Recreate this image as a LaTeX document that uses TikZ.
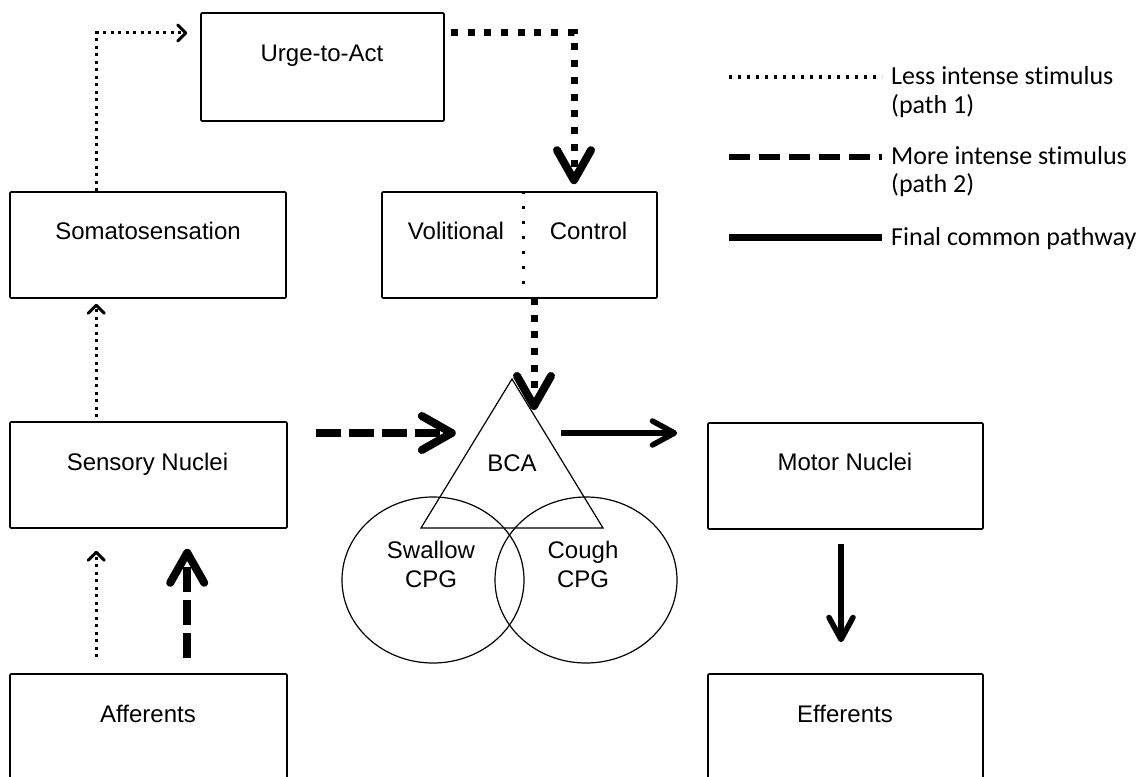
\documentclass[tikz,border=0pt]{standalone}
\usepackage{fontspec}
\setmainfont{Liberation Sans}
\newfontfamily\legendfont[Ligatures=NoCommon]{Carlito}
\usetikzlibrary{arrows.meta,calc,shapes.geometric}
\tikzset{
  box/.style={draw, line width=1.6pt, rounded corners=1pt, inner sep=0pt},
  lbl/.style={anchor=base, inner sep=0pt, font=\fontsize{24}{28}\selectfont},
  leg/.style={anchor=base west, inner sep=0pt, font=\legendfont\fontsize{26}{30}\selectfont},
  outline/.style={draw, line width=1.2pt},
  thindot/.style={line width=3pt, dash pattern=on 3pt off 4.5pt},
  thickdot/.style={line width=7pt, dash pattern=on 7pt off 9.7pt},
  thickdash/.style={line width=8pt, dash pattern=on 25pt off 8pt},
  solidline/.style={line width=5.5pt},
  tipthin/.tip={Straight Barb[length=8pt,width=16pt,line width=3pt,round]},
  tipbig/.tip={Straight Barb[length=30pt,width=34pt,line width=8pt,round]},
  tipsolid/.tip={Straight Barb[length=22pt,width=24pt,line width=5.5pt,round]},
}
\begin{document}
\begin{tikzpicture}[x=1pt,y=-1pt]
\clip (0,0) rectangle (1142,776);
\fill[white] (0,0) rectangle (1142,776);

% boxes
\node[box, minimum width=243pt, minimum height=108pt] (urge) at (322.5,67) {};
\node[box, minimum width=276pt, minimum height=106pt] (soma) at (148,245) {};
\node[box, minimum width=275pt, minimum height=106pt] (vol) at (519.5,245) {};
\node[box, minimum width=277pt, minimum height=106pt] (sens) at (148.5,475) {};
\node[box, minimum width=275pt, minimum height=106pt] (motor) at (845.5,476) {};
\node[box, minimum width=277pt, minimum height=108pt] (aff) at (148.5,728) {};
\node[box, minimum width=275pt, minimum height=108pt] (eff) at (845.5,728) {};

% box texts
\node[lbl] (urgeT) at (322,62) {Urge-to-Act};
\node[lbl] (somaT) at (148,239) {Somatosensation};
\node[lbl] (volT1) at (456,239) {Volitional};
\node[lbl] (volT2) at (588.5,239) {Control};
\node[lbl] (sensT) at (147.5,470) {Sensory Nuclei};
\node[lbl] (motorT) at (845,470) {Motor Nuclei};
\node[lbl] (affT) at (148,722) {Afferents};
\node[lbl] (effT) at (845,722) {Efferents};

% BCA triangle and CPG ellipses
\coordinate (bcaTop) at (512,379);
\coordinate (bcaR) at (603,528);
\coordinate (bcaL) at (421,528);
\node[outline, ellipse, minimum width=182pt, minimum height=166pt, inner sep=0pt] (swallow) at (433,580) {};
\node[outline, ellipse, minimum width=182pt, minimum height=166pt, inner sep=0pt] (cough) at (586,580) {};
\draw[outline, line join=miter] (bcaTop) -- (bcaR) -- (bcaL) -- cycle;
\node[lbl] (bcaT) at (512,471) {BCA};
\node[lbl] (swT1) at (431,558) {Swallow};
\node[lbl] (swT2) at (431,587) {CPG};
\node[lbl] (coT1) at (583,558) {Cough};
\node[lbl] (coT2) at (583,587) {CPG};

% path 1 (less intense, dotted)
\draw[thindot, -{tipthin}] ($(soma.north west)+(87,0)$) |- ($(urge.west)+(-13,-34)$);
\draw[thindot, -{tipthin}] ($(sens.north west)+(87,-4)$) -- ($(soma.south west)+(87,5)$);
\draw[thindot, -{tipthin}] ($(aff.north west)+(87,-16)$) -- ($(sens.south west)+(87,22)$);
\draw[line width=3pt, dash pattern=on 3pt off 12pt] ($(vol.north)+(3.5,0)$) -- ($(vol.south)+(3.5,-8)$);

% path 2 (more intense, dashed)
\draw[thickdash, -{tipbig}] ($(aff.north west)+(178,-15)$) -- ($(sens.south west)+(178,20)$);
\draw[thickdash, -{tipbig}] ($(sens.east)+(28,-42)$) -- ($(sens.east)+(168,-42)$);

% thick dotted (urge-to-act route)
\draw[thickdot, -{tipbig}] ($(urge.east)+(6,-34)$) -| ($(vol.north)+(54.5,-7)$);
\draw[thickdot, -{tipbig}] ($(vol.south)+(14.5,-1)$) -- ($(bcaTop)+(22,31)$);

% final common pathway
\draw[solidline, -{tipsolid}] ($(motor.west)+(-146,-43)$) -- ($(motor.west)+(-30,-43)$);
\draw[solidline, -{tipsolid}] ($(motor.south)+(-4.5,14)$) -- ($(eff.north)+(-4.5,-31)$);

% legend
\node[leg] (leg1) at (891,84) {Less intense stimulus};
\node[leg] (leg1b) at (891,113) {(path 1)};
\node[leg] (leg2) at (891,164) {More intense stimulus};
\node[leg] (leg2b) at (891,192) {(path 2)};
\node[leg] (leg3) at (891,245) {Final common pathway};
\draw[line width=3.2pt, dash pattern=on 3.2pt off 5.8pt] ($(leg1.base west)+(-162,-7)$) -- ($(leg1.base west)+(-9,-7)$);
\draw[line width=6pt, dash pattern=on 21pt off 9pt] ($(leg2.base west)+(-162,-7)$) -- ($(leg2.base west)+(-9,-7)$);
\draw[line width=7pt] ($(leg3.base west)+(-162,-8)$) -- ($(leg3.base west)+(-9,-8)$);
\end{tikzpicture}
\end{document}
